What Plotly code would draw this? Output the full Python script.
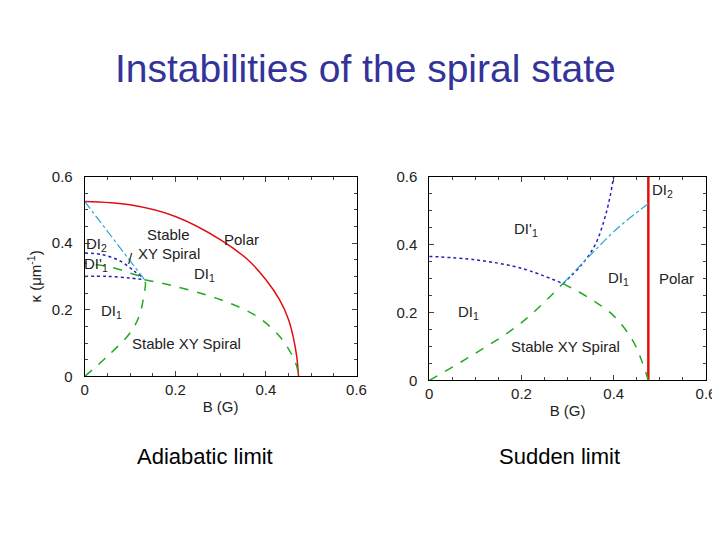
import plotly.graph_objects as go

# Adiabatic limit (left)
a_red_b = [0, 0.1, 0.2, 0.3, 0.36, 0.4, 0.43, 0.45, 0.46, 0.468, 0.472]
a_red_k = [0.525, 0.515, 0.48, 0.41, 0.35, 0.29, 0.23, 0.17, 0.12, 0.06, 0]
a_grn1_b = [0, 0.05, 0.1, 0.12, 0.13, 0.132, 0.1, 0.05, 0]
a_grn1_k = [0, 0.06, 0.13, 0.18, 0.24, 0.29, 0.31, 0.33, 0.34]
a_grn2_b = [0.132, 0.2, 0.3, 0.38, 0.43, 0.455, 0.468, 0.472]
a_grn2_k = [0.29, 0.27, 0.23, 0.18, 0.12, 0.07, 0.03, 0]
a_blu1_b = [0, 0.05, 0.1, 0.132]
a_blu1_k = [0.3, 0.3, 0.295, 0.29]
a_blu2_b = [0, 0.04, 0.08, 0.11, 0.125]
a_blu2_k = [0.37, 0.365, 0.345, 0.315, 0.3]
a_cyn_b = [0, 0.132]
a_cyn_k = [0.525, 0.29]

# Sudden limit (right)
s_red_b = [0.475, 0.475]
s_red_k = [0, 0.6]
s_grn1_b = [0, 0.1, 0.2, 0.29]
s_grn1_k = [0, 0.08, 0.17, 0.285]
s_grn2_b = [0.29, 0.35, 0.4, 0.44, 0.46, 0.475]
s_grn2_k = [0.285, 0.24, 0.19, 0.12, 0.06, 0]
s_blu1_b = [0, 0.1, 0.2, 0.29]
s_blu1_k = [0.365, 0.355, 0.33, 0.285]
s_blu2_b = [0.29, 0.33, 0.36, 0.385, 0.4]
s_blu2_k = [0.285, 0.34, 0.4, 0.5, 0.6]
s_cyn_b = [0.29, 0.35, 0.41, 0.475]
s_cyn_k = [0.285, 0.37, 0.45, 0.52]

RED, GRN, BLU, CYN = "#e01010", "#22aa22", "#2222bb", "#22aacc"

fig = go.Figure()


def add(x, y, color, dash, xa, ya, w=1.5):
    fig.add_trace(go.Scatter(x=x, y=y, mode="lines", xaxis=xa, yaxis=ya,
                             line=dict(color=color, dash=dash, width=w, shape="spline"),
                             showlegend=False, hoverinfo="skip"))


add(a_red_b, a_red_k, RED, "solid", "x", "y")
add(a_grn1_b, a_grn1_k, GRN, "dash", "x", "y")
add(a_grn2_b, a_grn2_k, GRN, "dash", "x", "y")
add(a_blu1_b, a_blu1_k, BLU, "dot", "x", "y")
add(a_blu2_b, a_blu2_k, BLU, "dot", "x", "y")
add(a_cyn_b, a_cyn_k, CYN, "dashdot", "x", "y", 1.2)

add(s_red_b, s_red_k, RED, "solid", "x2", "y2", 2.5)
add(s_grn1_b, s_grn1_k, GRN, "dash", "x2", "y2")
add(s_grn2_b, s_grn2_k, GRN, "dash", "x2", "y2")
add(s_blu1_b, s_blu1_k, BLU, "dot", "x2", "y2")
add(s_blu2_b, s_blu2_k, BLU, "dot", "x2", "y2")
add(s_cyn_b, s_cyn_k, CYN, "dashdot", "x2", "y2", 1.2)

ax = dict(range=[0, 0.6], showgrid=False, zeroline=False, showline=True, mirror="ticks",
          linecolor="black", linewidth=1, ticks="inside", ticklen=5,
          tickvals=[0, 0.2, 0.4, 0.6], ticktext=["0", "0.2", "0.4", "0.6"],
          minor=dict(ticks="inside", ticklen=3, dtick=0.05),
          tickfont=dict(size=15, color="#222"))

fig.update_layout(
    width=720, height=540, paper_bgcolor="white", plot_bgcolor="white",
    margin=dict(l=0, r=0, t=0, b=0),
    font=dict(family="Liberation Sans, Arial", color="#222"),
    xaxis=dict(ax, domain=[0.103, 0.488], anchor="y",
               title=dict(text="B (G)", font=dict(size=15), standoff=4)),
    yaxis=dict(ax, domain=[0.313, 0.695], anchor="x", ticklabelstandoff=8,
               title=dict(text="κ (μm<sup>-1</sup>)", font=dict(size=15), standoff=6)),
    xaxis2=dict(ax, domain=[0.591, 0.983], anchor="y2",
                title=dict(text="B (G)", font=dict(size=15), standoff=4)),
    yaxis2=dict(ax, domain=[0.305, 0.695], anchor="x2", ticklabelstandoff=8),
)

labels = [
    ("x", "y", 0.025, 0.395, "DI<sub>2</sub>"),
    ("x", "y", 0.025, 0.335, "DI'<sub>1</sub>"),
    ("x", "y", 0.185, 0.425, "Stable"),
    ("x", "y", 0.185, 0.37, "XY Spiral"),
    ("x", "y", 0.1, 0.355, "/"),
    ("x", "y", 0.345, 0.41, "Polar"),
    ("x", "y", 0.265, 0.305, "DI<sub>1</sub>"),
    ("x", "y", 0.06, 0.195, "DI<sub>1</sub>"),
    ("x", "y", 0.225, 0.1, "Stable XY Spiral"),
    ("x2", "y2", 0.505, 0.56, "DI<sub>2</sub>"),
    ("x2", "y2", 0.21, 0.445, "DI'<sub>1</sub>"),
    ("x2", "y2", 0.41, 0.3, "DI<sub>1</sub>"),
    ("x2", "y2", 0.535, 0.3, "Polar"),
    ("x2", "y2", 0.085, 0.2, "DI<sub>1</sub>"),
    ("x2", "y2", 0.295, 0.1, "Stable XY Spiral"),
]
for xr, yr, x, y, t in labels:
    fig.add_annotation(xref=xr, yref=yr, x=x, y=y, text=t, showarrow=False,
                       font=dict(size=15, color="#222"))

for x, y, t, size, color in [(0.5, 0.902, "Instabilities of the spiral state", 39, "#333399"),
                             (0.274, 0.16, "Adiabatic limit", 22, "black"),
                             (0.775, 0.16, "Sudden limit", 22, "black")]:
    fig.add_annotation(xref="paper", yref="paper", x=x, y=y, text=t, xanchor="center",
                       yanchor="middle", showarrow=False, font=dict(size=size, color=color))

fig.write_html("out.html")
